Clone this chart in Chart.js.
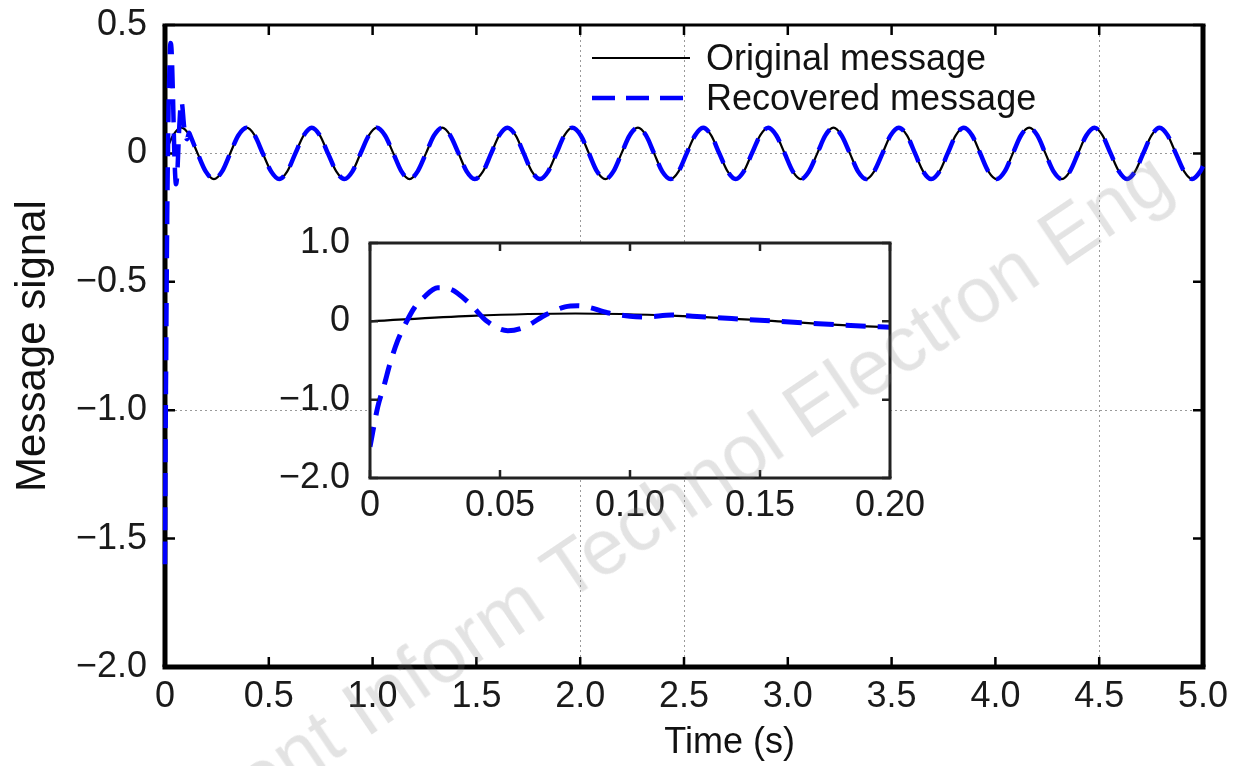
<!DOCTYPE html>
<html>
<head>
<meta charset="utf-8">
<script src="https://cdn.jsdelivr.net/npm/chart.js@4.4.1/dist/chart.umd.min.js"></script>
<style>
    html, body { margin: 0; padding: 0; background: #fff; }
    #wrap { position: relative; width: 1243px; height: 766px; overflow: hidden; }
    #main { position: absolute; left: 0; top: 0; }
    #inset { position: absolute; left: 260px; top: 225px; }
    #mark {
        position: absolute; left: 672px; top: 500px;
        transform: translate(-50%, -50%) rotate(-34deg);
        font: 78px "Liberation Sans", Arial, sans-serif;
        color: rgba(128, 128, 128, 0.22);
        white-space: nowrap; pointer-events: none;
    }
</style>
</head>
<body>
<div id="wrap">
    <canvas id="main" width="1243" height="766" style="width:1243px;height:766px"></canvas>
    <canvas id="inset" width="680" height="300" style="width:680px;height:300px"></canvas>
    <div id="mark">Front Inform Technol Electron Eng</div>
</div>
<script>
// sample times (s), one row per period of the message
const sampleTimes = [
    0, 0.039, 0.079, 0.118, 0.157, 0.196, 0.236, 0.275,
    0.314, 0.353, 0.393, 0.432, 0.471, 0.511, 0.550, 0.589,
    0.628, 0.668, 0.707, 0.746, 0.785, 0.825, 0.864, 0.903,
    0.942, 0.982, 1.021, 1.060, 1.100, 1.139, 1.178, 1.217,
    1.257, 1.296, 1.335, 1.374, 1.414, 1.453, 1.492, 1.532,
    1.571, 1.610, 1.649, 1.689, 1.728, 1.767, 1.806, 1.846,
    1.885, 1.924, 1.963, 2.003, 2.042, 2.081, 2.121, 2.160,
    2.199, 2.238, 2.278, 2.317, 2.356, 2.395, 2.435, 2.474,
    2.513, 2.553, 2.592, 2.631, 2.670, 2.710, 2.749, 2.788,
    2.827, 2.867, 2.906, 2.945, 2.985, 3.024, 3.063, 3.102,
    3.142, 3.181, 3.220, 3.259, 3.299, 3.338, 3.377, 3.416,
    3.456, 3.495, 3.534, 3.574, 3.613, 3.652, 3.691, 3.731,
    3.770, 3.809, 3.848, 3.888, 3.927, 3.966, 4.006, 4.045,
    4.084, 4.123, 4.163, 4.202, 4.241, 4.280, 4.320, 4.359,
    4.398, 4.438, 4.477, 4.516, 4.555, 4.595, 4.634, 4.673,
    4.712, 4.752, 4.791, 4.830, 4.869, 4.909, 4.948, 4.987,
    5.000
];

const originalValues = [
    0, 0.07, 0.1, 0.07, 0, -0.07, -0.1, -0.07,
    0, 0.07, 0.1, 0.07, 0, -0.07, -0.1, -0.07,
    0, 0.07, 0.1, 0.07, 0, -0.07, -0.1, -0.07,
    0, 0.07, 0.1, 0.07, 0, -0.07, -0.1, -0.07,
    0, 0.07, 0.1, 0.07, 0, -0.07, -0.1, -0.07,
    0, 0.07, 0.1, 0.07, 0, -0.07, -0.1, -0.07,
    0, 0.07, 0.1, 0.07, 0, -0.07, -0.1, -0.07,
    0, 0.07, 0.1, 0.07, 0, -0.07, -0.1, -0.07,
    0, 0.07, 0.1, 0.07, 0, -0.07, -0.1, -0.07,
    0, 0.07, 0.1, 0.07, 0, -0.07, -0.1, -0.07,
    0, 0.07, 0.1, 0.07, 0, -0.07, -0.1, -0.07,
    0, 0.07, 0.1, 0.07, 0, -0.07, -0.1, -0.07,
    0, 0.07, 0.1, 0.07, 0, -0.07, -0.1, -0.07,
    0, 0.07, 0.1, 0.07, 0, -0.07, -0.1, -0.07,
    0, 0.07, 0.1, 0.07, 0, -0.07, -0.1, -0.07,
    0, 0.07, 0.1, 0.07, 0, -0.07, -0.1, -0.07,
    -0.05
];

// start-up transient of the recovered message
const transientTimes = [
    0, 0.003, 0.0055, 0.0076, 0.0106, 0.0135, 0.0172, 0.0205, 0.026, 0.031,
    0.0385, 0.045, 0.053, 0.059, 0.068, 0.075, 0.080, 0.084, 0.0913, 0.100,
    0.106, 0.116, 0.124
];
const transientValues = [
    -1.6, -1.09, -0.81, -0.55, -0.25, -0.04, 0.18, 0.30, 0.43, 0.41,
    0.22, 0.0, -0.12, -0.08, 0.09, 0.185, 0.20, 0.18, 0.11, 0.065,
    0.055, 0.08, 0.065
];

// after ~0.15 s the recovered message sits on the original one
const recoveredTimes = transientTimes.concat(sampleTimes.slice(4));
const recoveredValues = transientValues.concat(originalValues.slice(4));

const seriesLabels = ['Original message', 'Recovered message'];

const xTickLabels = ['0', '0.5', '1.0', '1.5', '2.0', '2.5', '3.0', '3.5', '4.0', '4.5', '5.0'];
const yTickLabels = ['\u22122.0', '\u22121.5', '\u22121.0', '\u22120.5', '0', '0.5'];
const insetXTickLabels = ['0', '0.05', '0.10', '0.15', '0.20'];
const insetYTickLabels = ['\u22122.0', '\u22121.0', '0', '1.0'];

// grid lines that show in the figure
const gridX = [2.0, 2.5, 4.5];
const gridY = [0, -1.0];

const FONT = '"Liberation Sans", Arial, sans-serif';

function toPoints(times, values) {
    return times.map((t, i) => ({ x: t, y: values[i] }));
}

function makeDatasets(blueWidth, dash, clip) {
    return [
        {
            label: seriesLabels[0],
            data: toPoints(sampleTimes, originalValues),
            borderColor: '#000000',
            borderWidth: 2.2,
            pointRadius: 0,
            cubicInterpolationMode: 'monotone',
            clip: clip,
            order: 2
        },
        {
            label: seriesLabels[1],
            data: toPoints(recoveredTimes, recoveredValues),
            borderColor: '#0000ff',
            borderWidth: blueWidth,
            borderDash: dash,
            pointRadius: 0,
            cubicInterpolationMode: 'monotone',
            clip: clip,
            order: 1
        }
    ];
}

function drawFrame(chart, opts) {
    const { ctx, chartArea: a } = chart;
    const xs = chart.scales.x;
    const ys = chart.scales.y;
    ctx.save();
    ctx.strokeStyle = opts.color;
    ctx.setLineDash([]);

    // ticks point inward, on all four sides
    ctx.lineWidth = opts.tickWidth;
    ctx.beginPath();
    xs.ticks.forEach((t) => {
        const px = xs.getPixelForValue(t.value);
        ctx.moveTo(px, a.bottom);
        ctx.lineTo(px, a.bottom - opts.tickLen);
        ctx.moveTo(px, a.top);
        ctx.lineTo(px, a.top + opts.tickLen);
    });
    ys.ticks.forEach((t) => {
        const py = ys.getPixelForValue(t.value);
        ctx.moveTo(a.left, py);
        ctx.lineTo(a.left + opts.tickLen, py);
        ctx.moveTo(a.right, py);
        ctx.lineTo(a.right - opts.tickLen, py);
    });
    ctx.stroke();

    const side = (w, x1, y1, x2, y2) => {
        ctx.lineWidth = w;
        ctx.beginPath();
        ctx.moveTo(x1, y1);
        ctx.lineTo(x2, y2);
        ctx.stroke();
    };
    const h = opts.side / 2;
    side(opts.topWidth, a.left - h, a.top, a.right + h, a.top);
    side(opts.side, a.left - h, a.bottom, a.right + h, a.bottom);
    side(opts.side, a.left, a.top, a.left, a.bottom);
    side(opts.side, a.right, a.top, a.right, a.bottom);
    ctx.restore();
}

const mainDecor = {
    id: 'mainDecor',
    beforeDatasetsDraw(chart) {
        // the frame goes under the curves, the blue start-up dashes sit on the left axis
        drawFrame(chart, { color: '#000', tickWidth: 2.5, tickLen: 10, side: 5, topWidth: 3 });
    },
    afterDraw(chart) {
        const { ctx } = chart;
        ctx.save();

        // legend, top right inside the axes
        const legendX = 592;
        const lineLen = 98;
        const rowY = [58, 98];
        ctx.font = `36px ${FONT}`;
        ctx.textBaseline = 'middle';
        chart.data.datasets.forEach((ds, i) => {
            ctx.strokeStyle = ds.borderColor;
            ctx.lineWidth = ds.borderWidth;
            ctx.setLineDash(ds.borderDash || []);
            ctx.beginPath();
            ctx.moveTo(legendX, rowY[i]);
            ctx.lineTo(legendX + lineLen, rowY[i]);
            ctx.stroke();
            ctx.setLineDash([]);
            ctx.fillStyle = '#111';
            ctx.fillText(ds.label, legendX + lineLen + 16, rowY[i] + 2);
        });

        // x axis title
        ctx.textAlign = 'center';
        ctx.fillStyle = '#111';
        ctx.fillText('Time (s)', chart.scales.x.getPixelForValue(2.72), 743);
        ctx.restore();
    }
};

const gridColor = (list) => (c) => (c.tick && list.some((v) => Math.abs(v - c.tick.value) < 1e-9)) ? '#9a9a9a' : 'rgba(0,0,0,0)';

new Chart(document.getElementById('main'), {
    type: 'line',
    data: { datasets: makeDatasets(4.5, [23, 11], false) },
    options: {
        responsive: false,
        animation: false,
        layout: { padding: { top: 25, right: 40, left: 0, bottom: 0 } },
        plugins: { legend: { display: false }, tooltip: { enabled: false } },
        scales: {
            x: {
                type: 'linear',
                min: 0,
                max: 5,
                ticks: {
                    stepSize: 0.5,
                    autoSkip: false,
                    maxRotation: 0,
                    padding: 8,
                    color: '#1a1a1a',
                    font: { family: FONT, size: 36 },
                    callback: (v, i) => xTickLabels[i]
                },
                grid: { drawTicks: false, color: gridColor(gridX), lineWidth: 1 },
                border: { display: false, dash: [2, 3] },
                afterFit: (s) => { s.height = 99; s.paddingLeft = 0; s.paddingRight = 0; }
            },
            y: {
                type: 'linear',
                min: -2,
                max: 0.5,
                ticks: {
                    stepSize: 0.5,
                    padding: 18,
                    color: '#1a1a1a',
                    font: { family: FONT, size: 36 },
                    callback: (v, i) => yTickLabels[i]
                },
                grid: { drawTicks: false, color: gridColor(gridY), lineWidth: 1 },
                border: { display: false, dash: [2, 3] },
                title: {
                    display: true,
                    text: 'Message signal',
                    color: '#111',
                    font: { family: FONT, size: 42 },
                    padding: { top: 8, bottom: 0 }
                },
                afterFit: (s) => { s.width = 165; s.paddingTop = 0; s.paddingBottom = 0; }
            }
        }
    },
    plugins: [mainDecor]
});

const insetDecor = {
    id: 'insetDecor',
    beforeDraw(chart) {
        const { ctx, chartArea: a } = chart;
        ctx.save();
        ctx.fillStyle = '#fff';
        ctx.fillRect(a.left, a.top, a.right - a.left, a.bottom - a.top);
        ctx.restore();
    },
    afterDraw(chart) {
        drawFrame(chart, { color: '#222', tickWidth: 2.5, tickLen: 8, side: 3, topWidth: 3 });
    }
};

new Chart(document.getElementById('inset'), {
    type: 'line',
    data: { datasets: makeDatasets(5, [20, 12], true) },
    options: {
        responsive: false,
        animation: false,
        layout: { padding: { top: 18, right: 50, left: 0, bottom: 0 } },
        plugins: { legend: { display: false }, tooltip: { enabled: false } },
        scales: {
            x: {
                type: 'linear',
                min: 0,
                max: 0.2,
                ticks: {
                    stepSize: 0.05,
                    autoSkip: false,
                    maxRotation: 0,
                    padding: 6,
                    color: '#1a1a1a',
                    font: { family: FONT, size: 36 },
                    callback: (v, i) => insetXTickLabels[i]
                },
                grid: { display: false, drawTicks: false },
                border: { display: false },
                afterFit: (s) => { s.height = 47; s.paddingLeft = 0; s.paddingRight = 0; }
            },
            y: {
                type: 'linear',
                min: -2,
                max: 1,
                ticks: {
                    stepSize: 1,
                    padding: 20,
                    color: '#1a1a1a',
                    font: { family: FONT, size: 36 },
                    callback: (v, i) => insetYTickLabels[i]
                },
                grid: { display: false, drawTicks: false },
                border: { display: false },
                afterFit: (s) => { s.width = 110; s.paddingTop = 0; s.paddingBottom = 0; }
            }
        }
    },
    plugins: [insetDecor]
});
</script>
</body>
</html>
